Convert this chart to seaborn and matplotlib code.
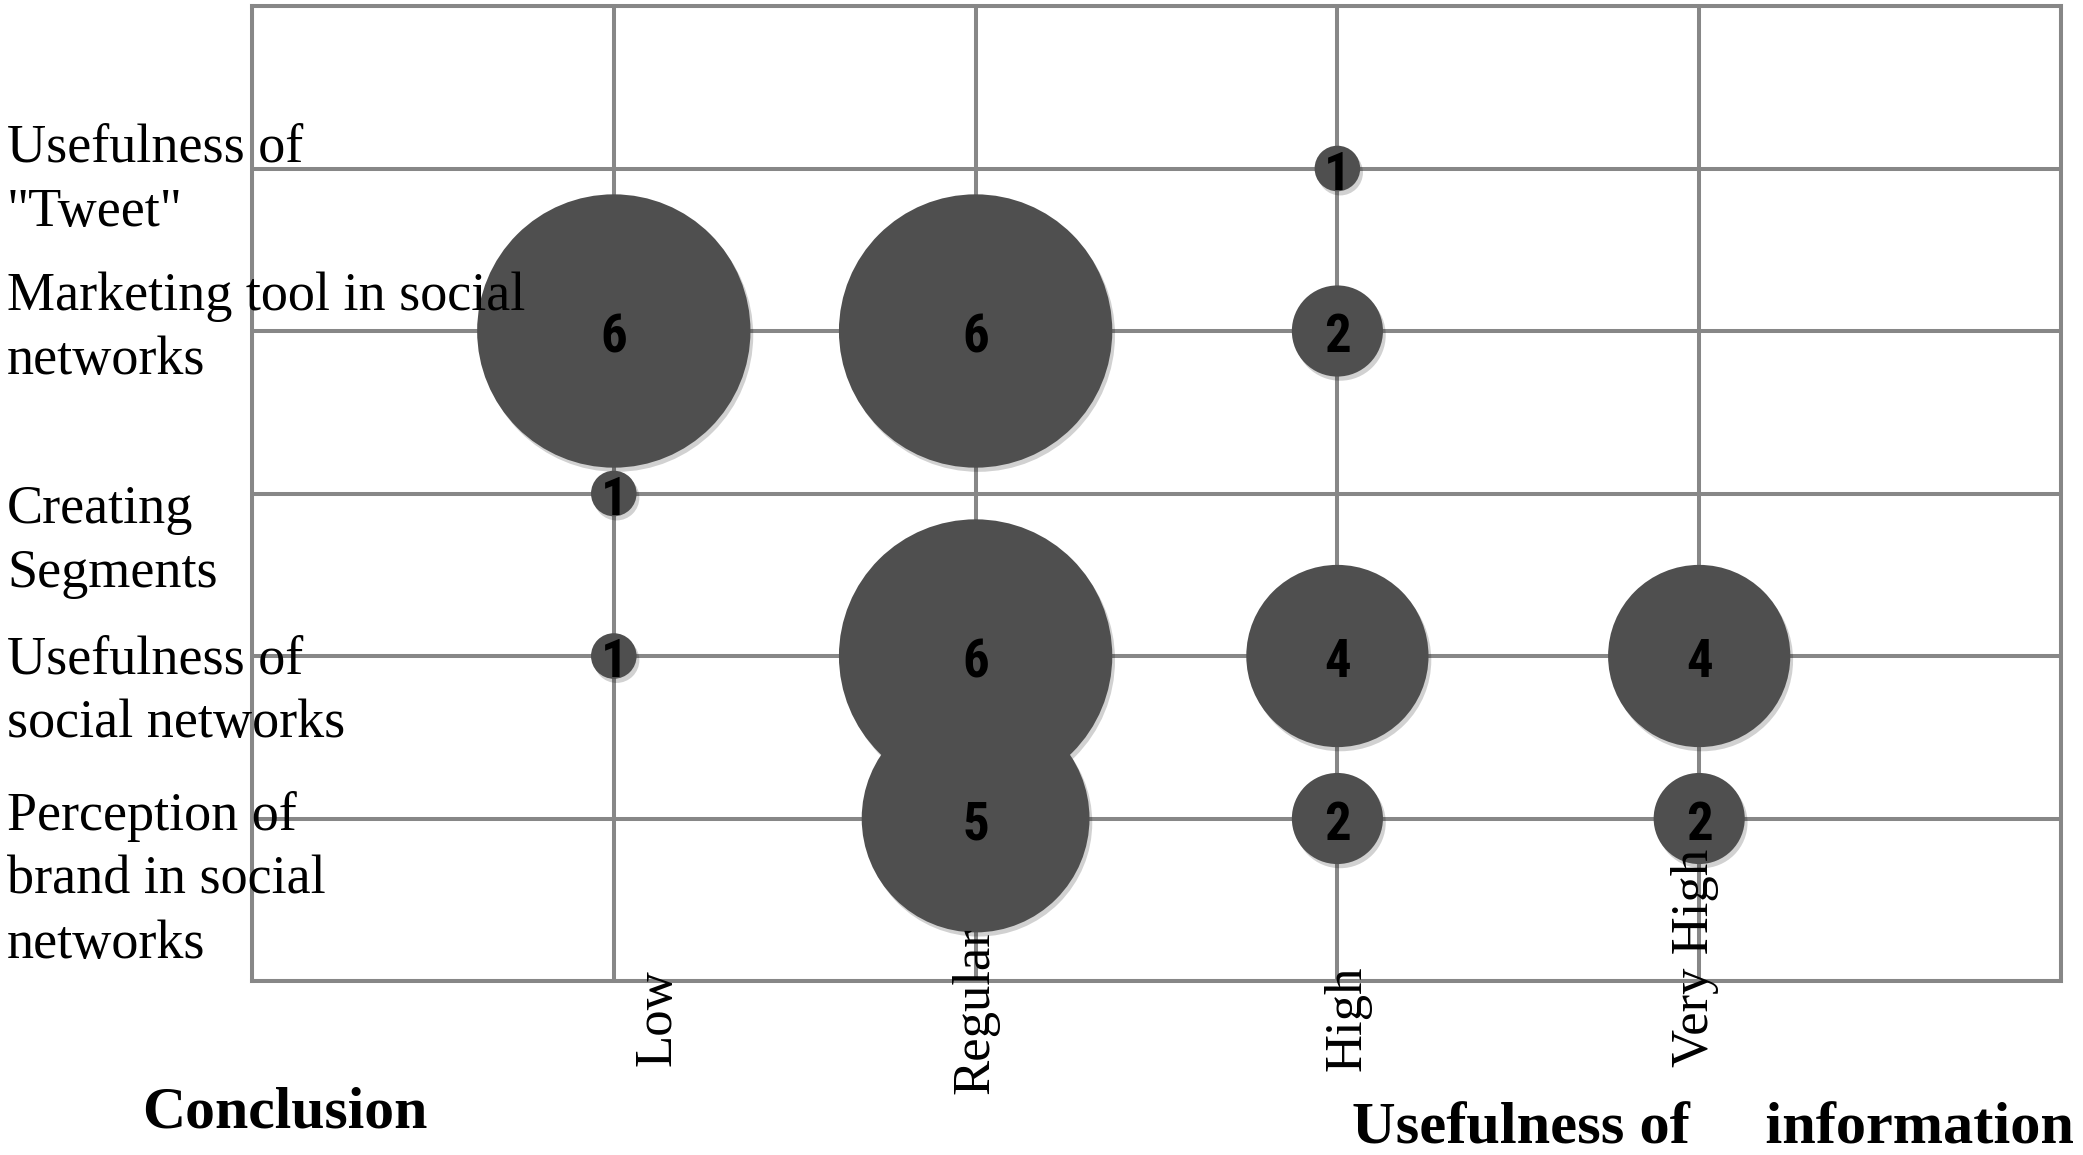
import pandas as pd
import seaborn as sns
import matplotlib.pyplot as plt
import matplotlib.transforms as mtransforms
import matplotlib.patheffects as pe
from matplotlib import font_manager

# Row topics (bottom to top) and the answer levels on the x axis
topics = ['Perception of\nbrand in social\nnetworks',
          'Usefulness of\nsocial networks',
          'Creating\nSegments',
          'Marketing tool in social\nnetworks',
          'Usefulness of\n"Tweet"']
levels = ['Low', 'Regular', 'High', 'Very High']

# Bubbles: which topic, which level, how many answers
point_topic = [0, 0, 0, 1, 1, 1, 1, 3, 3, 3, 2, 4]
point_level = ['Regular', 'High', 'Very High',
               'Low', 'Regular', 'High', 'Very High',
               'Low', 'Regular', 'High',
               'Low', 'High']
point_count = [5, 2, 2, 1, 6, 4, 4, 6, 6, 2, 1, 1]

# Label nudges (pixels) to follow the original layout
topic_shift = [62, 36, 48, -2, 12]
level_shift_x = [44, 0, 10, -4]
level_center_y = [1018, 1011, 1018, 958]

df = pd.DataFrame({
    'x': [levels.index(l) + 1 for l in point_level],
    'y': [t + 1 for t in point_topic],
    'count': point_count,
})

sns.set_theme(style='white')
plt.rcParams['font.family'] = ['Liberation Serif', 'DejaVu Serif']

# Narrow bold font for the numbers inside bubbles
names = {f.name for f in font_manager.fontManager.ttflist}
num_font = 'DejaVu Sans'
for cand in ['Liberation Sans Narrow', 'Roboto Condensed', 'Roboto', 'Liberation Sans']:
    if cand in names:
        num_font = cand
        break

W, H = 2083, 1155
fig = plt.figure(figsize=(W / 100, H / 100), dpi=100)
ax = fig.add_axes([252 / W, 1 - 981 / H, (2061 - 252) / W, (981 - 6) / H])

grid_color = '#878787'
bubble_pt = 32.8
size_map = {v: (bubble_pt * v) ** 2 for v in set(point_count)}

sns.scatterplot(data=df, x='x', y='y', size='count', sizes=size_map,
                color='#4f4f4f', linewidth=0, legend=False, zorder=3, ax=ax)
ax.collections[0].set_path_effects([
    pe.SimplePatchShadow(offset=(2, -3), shadow_rgbFace='black', alpha=0.18),
    pe.Normal()])

num_trans = mtransforms.offset_copy(ax.transData, fig=fig, y=-5, units='points')
for _, r in df.iterrows():
    ax.text(r['x'], r['y'], str(r['count']), transform=num_trans,
            ha='center', va='center', fontsize=38, fontweight='heavy',
            family=num_font, color='black', zorder=4)

ax.set_xlim(0, 5)
ax.set_ylim(0, 6)
ax.set_xticks(range(6))
ax.set_yticks(range(7))
ax.set_xticklabels([])
ax.set_yticklabels([])
ax.tick_params(length=0)
ax.set(xlabel='', ylabel='')
ax.set_axisbelow(True)
ax.grid(True, color=grid_color, linewidth=2.9)
for sp in ax.spines.values():
    sp.set_color(grid_color)
    sp.set_linewidth(2.9)
    sp.set_zorder(1)

# Topic labels on the left
ytrans = mtransforms.blended_transform_factory(fig.transFigure, ax.transData)
for i, (lab, sh) in enumerate(zip(topics, topic_shift)):
    tr = mtransforms.offset_copy(ytrans, fig=fig, y=-sh * 0.72, units='points')
    ax.text(7 / W, i + 1, lab, transform=tr, ha='left', va='center',
            fontsize=39, linespacing=1.36, color='black', zorder=5, clip_on=False)

# Level labels, rotated
xtrans = mtransforms.blended_transform_factory(ax.transData, fig.transFigure)
for i, (lab, dx, cy) in enumerate(zip(levels, level_shift_x, level_center_y)):
    tr = mtransforms.offset_copy(xtrans, fig=fig, x=dx * 0.72, units='points')
    ax.text(i + 1, 1 - cy / H, lab, transform=tr, rotation=90, ha='center', va='center',
            fontsize=38, color='black', zorder=5, clip_on=False)

fig.text(285 / W, 1 - 1113 / H, 'Conclusion', ha='center', va='center',
         fontsize=43, fontweight='bold', color='black')
fig.text(1352 / W, 1 - 1129 / H, 'Usefulness of     information', ha='left', va='center',
         fontsize=43.5, fontweight='bold', color='black')

fig.savefig('out.png', dpi=100, facecolor='white')
